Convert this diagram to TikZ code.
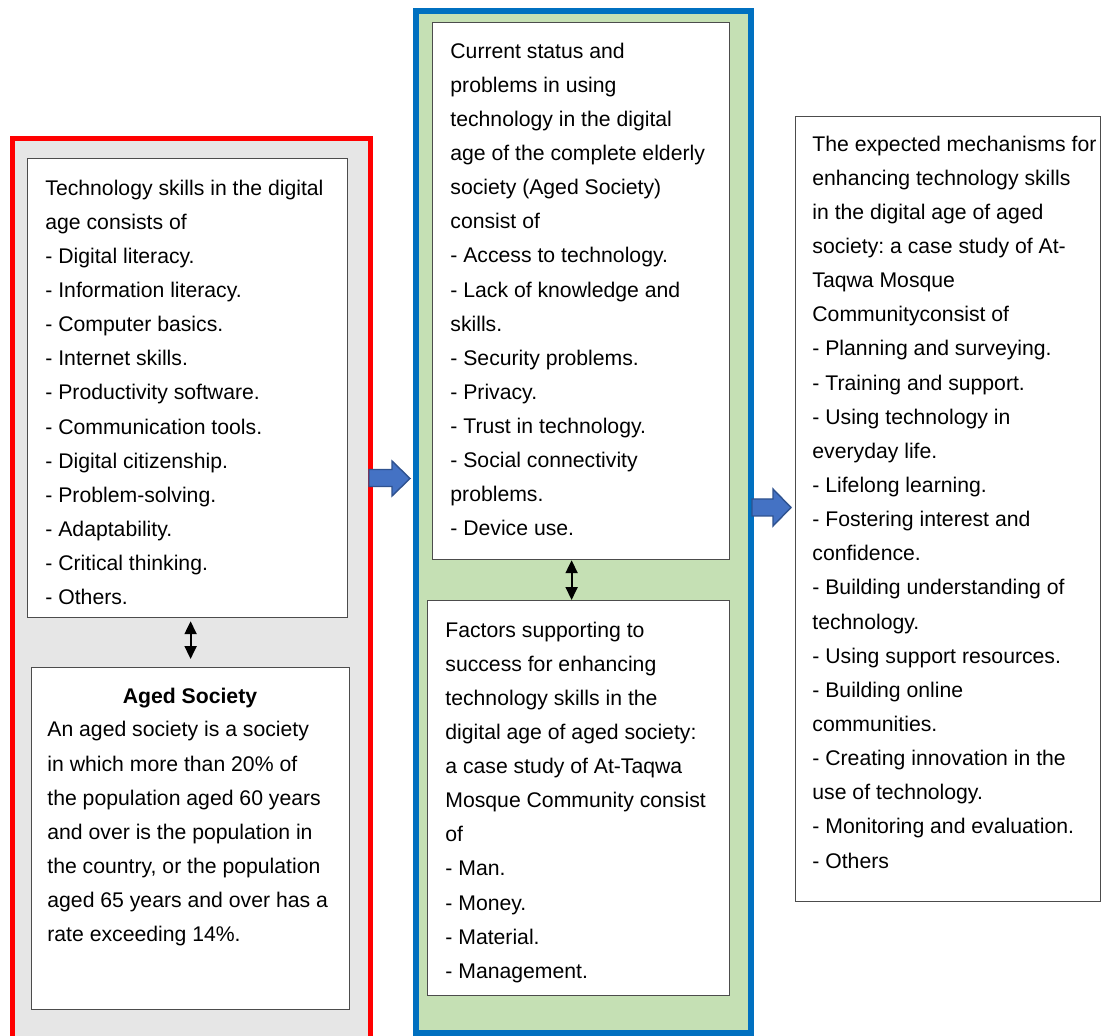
\documentclass[tikz,border=0pt]{standalone}
\usepackage{fontspec}
\setmainfont{Liberation Sans}
\usetikzlibrary{arrows.meta,positioning}
\frenchspacing

\definecolor{panelgray}{HTML}{E6E6E6}
\definecolor{panelgreen}{HTML}{C5E0B4}
\definecolor{frameblue}{HTML}{0070C0}
\definecolor{arrowfill}{HTML}{4472C4}
\definecolor{arrowline}{HTML}{2F528F}

\tikzset{
  outerbox/.style={inner sep=0pt, anchor=north west},
  panel/.style={draw=black!70, line width=0.6pt, fill=white, inner sep=0pt, anchor=north west},
  % placed by the baseline of the last line
  body/.style={anchor=base west, inner sep=0pt, align=left, font=\fontsize{10.6}{17.07}\selectfont},
  dbl/.style={{Triangle[width=6pt,length=6.5pt]}-{Triangle[width=6pt,length=6.5pt]}, line width=1pt},
  blockarrow/.style={fill=arrowfill, draw=arrowline, line width=0.7pt, line join=miter}
}

\begin{document}
\begin{tikzpicture}[x=0.5pt,y=-0.5pt]
  \useasboundingbox (0,0) rectangle (1101,1036);

  % Outer frames
  \node[outerbox, draw=red, fill=panelgray, line width=2.5pt,
        minimum width=179pt, minimum height=450.5pt] (redframe) at (9.5,136.5) {};
  \node[outerbox, draw=frameblue, fill=panelgreen, line width=3pt,
        minimum width=167.5pt, minimum height=510.75pt] (blueframe) at (413,8) {};

  % Left column
  \node[panel, minimum width=160pt, minimum height=229.5pt] (skills) at (27,158) {};
  \node[body] (skillstxt) at (45,604.7) {Technology skills in the digital\\
age consists of\\
- Digital literacy.\\
- Information literacy.\\
- Computer basics.\\
- Internet skills.\\
- Productivity software.\\
- Communication tools.\\
- Digital citizenship.\\
- Problem-solving.\\
- Adaptability.\\
- Critical thinking.\\
- Others.};

  \node[panel, minimum width=159pt, minimum height=171pt] (aged) at (31,667) {};
  \node[anchor=base, inner sep=0pt, font=\fontsize{10.6}{17.07}\selectfont\bfseries] (agedtitle) at (190,703) {Aged Society};
  \node[body] (agedtxt) at (47,941.8) {An aged society is a society\\
in which more than 20\% of\\
the population aged 60 years\\
and over is the population in\\
the country, or the population\\
aged 65 years and over has a\\
rate exceeding 14\%.};

  % Middle column
  \node[panel, minimum width=148.5pt, minimum height=268.5pt] (status) at (432,22) {};
  \node[body] (statustxt) at (450,536) {Current status and\\
problems in using\\
technology in the digital\\
age of the complete elderly\\
society (Aged Society)\\
consist of\\
- Access to technology.\\
- Lack of knowledge and\\
skills.\\
- Security problems.\\
- Privacy.\\
- Trust in technology.\\
- Social connectivity\\
problems.\\
- Device use.};

  \node[panel, minimum width=151pt, minimum height=197.5pt] (factors) at (427,600) {};
  \node[body] (factorstxt) at (445,978.4) {Factors supporting to\\
success for enhancing\\
technology skills in the\\
digital age of aged society:\\
a case study of At-Taqwa\\
Mosque Community consist\\
of\\
- Man.\\
- Money.\\
- Material.\\
- Management.};

  % Right column
  \node[panel, minimum width=152.5pt, minimum height=392.5pt] (mechs) at (795,116) {};
  \node[body] (mechstxt) at (812,868) {The expected mechanisms for\\
enhancing technology skills\\
in the digital age of aged\\
society: a case study of At-\\
Taqwa Mosque\\
Communityconsist of\\
- Planning and surveying.\\
- Training and support.\\
- Using technology in\\
everyday life.\\
- Lifelong learning.\\
- Fostering interest and\\
confidence.\\
- Building understanding of\\
technology.\\
- Using support resources.\\
- Building online\\
communities.\\
- Creating innovation in the\\
use of technology.\\
- Monitoring and evaluation.\\
- Others};

  % Links inside the frames
  \draw[dbl] ([yshift=-1.5pt]aged.north |- skills.south) -- ([yshift=4pt]aged.north);
  \draw[dbl] ([xshift=-4.75pt]status.south) -- ([xshift=-4.75pt]status.south |- factors.north);

  % Block arrows between frames
  \draw[blockarrow] (369,469.5) -- ++(23,0) -- ++(0,-8.5) -- ++(18,17.5)
    -- ++(-18,17.5) -- ++(0,-9.5) -- ++(-23,0) -- cycle;
  \draw[blockarrow] (752,499) -- ++(21,0) -- ++(0,-10) -- ++(18,18.5)
    -- ++(-18,18.5) -- ++(0,-10) -- ++(-21,0) -- cycle;
\end{tikzpicture}
\end{document}
